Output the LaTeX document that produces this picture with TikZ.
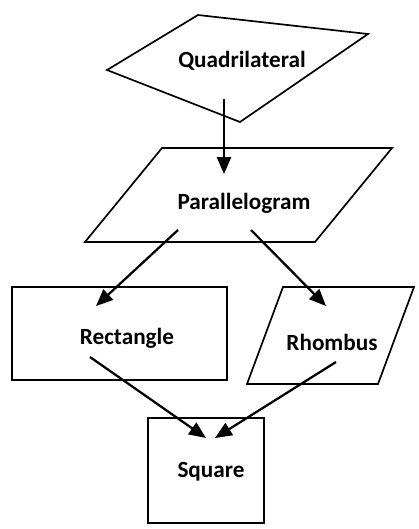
\documentclass[tikz,border=0pt]{standalone}
\usepackage{fontspec}
\setmainfont{Carlito}
\usetikzlibrary{arrows.meta}

\begin{document}
\begin{tikzpicture}[x=0.025cm,y=-0.025cm,
        outline/.style={line width=1.2pt,line join=miter},
        link/.style={line width=1.6pt,-{Triangle[length=12pt,width=10pt]}},
        caption/.style={font=\fontsize{16.5}{20}\selectfont\bfseries}]
        \useasboundingbox (0,0) rectangle (419,529);
        % outlines
        \draw[outline] (198,15) -- (368,34) -- (240,122) -- (107,70) -- cycle;
        \draw[outline] (162,148) -- (392,148) -- (315,242) -- (85,242) -- cycle;
        \draw[outline] (12,287) rectangle (227,380);
        \draw[outline] (283,287) -- (414,287) -- (378,384) -- (247,384) -- cycle;
        \draw[outline] (148,418) rectangle (264,523);
        % names
        \node[caption] (quad) at (242,61) {Quadrilateral};
        \node[caption] (para) at (244,203) {Parallelogram};
        \node[caption] (rect) at (127,338) {Rectangle};
        \node[caption] (rhom) at (332,342) {Rhombus};
        \node[caption] (sq) at (211,472) {Square};
        % arrow ends
        \coordinate (q1) at (224,99);
        \coordinate (p1) at (224,174);
        \coordinate (p2) at (178,230);
        \coordinate (p3) at (251,230);
        \coordinate (r1) at (96,306);
        \coordinate (h1) at (326,306);
        \coordinate (r2) at (90,357);
        \coordinate (h2) at (336,362);
        \coordinate (s1) at (206,438);
        \coordinate (s2) at (215,438);
        \draw[link] (q1) -- (p1);
        \draw[link] (p2) -- (r1);
        \draw[link] (p3) -- (h1);
        \draw[link] (r2) -- (s1);
        \draw[link] (h2) -- (s2);
\end{tikzpicture}
\end{document}
